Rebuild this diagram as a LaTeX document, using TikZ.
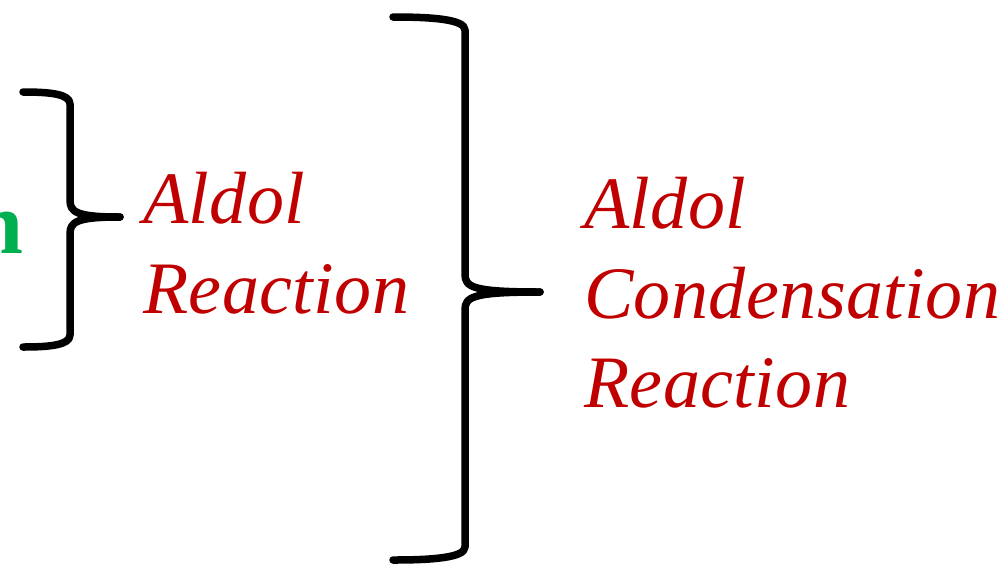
\documentclass[tikz,border=0pt]{standalone}
\usepackage{fontspec}
\setmainfont{Liberation Serif}
\definecolor{redtxt}{HTML}{C00000}
\definecolor{greentxt}{HTML}{00B050}
\begin{document}
\begin{tikzpicture}[x=1pt,y=-1pt,
  brace/.style={line width=7.5pt,line cap=round,line join=round,draw=black},
  lbl/.style={text=redtxt,font=\fontsize{74}{90}\selectfont\itshape\addfontfeatures{LetterSpace=0.6},inner sep=0pt,anchor=base west},
  grn/.style={text=greentxt,font=\fontsize{88}{100}\selectfont\bfseries,inner sep=0pt,anchor=base east}]
\useasboundingbox (0,0) rectangle (1006,566);
% green partial word
\node[grn] (g) at (24,253) {n};
% small brace
\coordinate (s1) at (23,92);
\coordinate (s2) at (23,347);
\coordinate (st) at (120,217);
\draw[brace] (s1) .. controls (50,92) and (70,94) .. (70,104) -- (70,200)
  .. controls (70,212) and (76,217) .. (st);
\draw[brace] (st) .. controls (76,217) and (70,222) .. (70,234) -- (70,335)
  .. controls (70,345) and (50,347) .. (s2);
% big brace
\coordinate (b1) at (393,17);
\coordinate (b2) at (393,560);
\coordinate (bt) at (540,292);
\draw[brace] (b1) .. controls (430,17) and (465,19) .. (465,30) -- (465,274)
  .. controls (465,287) and (472,292) .. (bt);
\draw[brace] (bt) .. controls (472,292) and (465,297) .. (465,310) -- (465,547)
  .. controls (465,558) and (430,560) .. (b2);
% labels
\node[lbl] (a1) at (143,223) {Aldol};
\node[lbl] (a2) at (143,313) {Reaction};
\node[lbl] (c1) at (584,228) {Aldol};
\node[lbl] (c2) at (584,318) {Condensation};
\node[lbl] (c3) at (584,407) {Reaction};
\end{tikzpicture}
\end{document}
